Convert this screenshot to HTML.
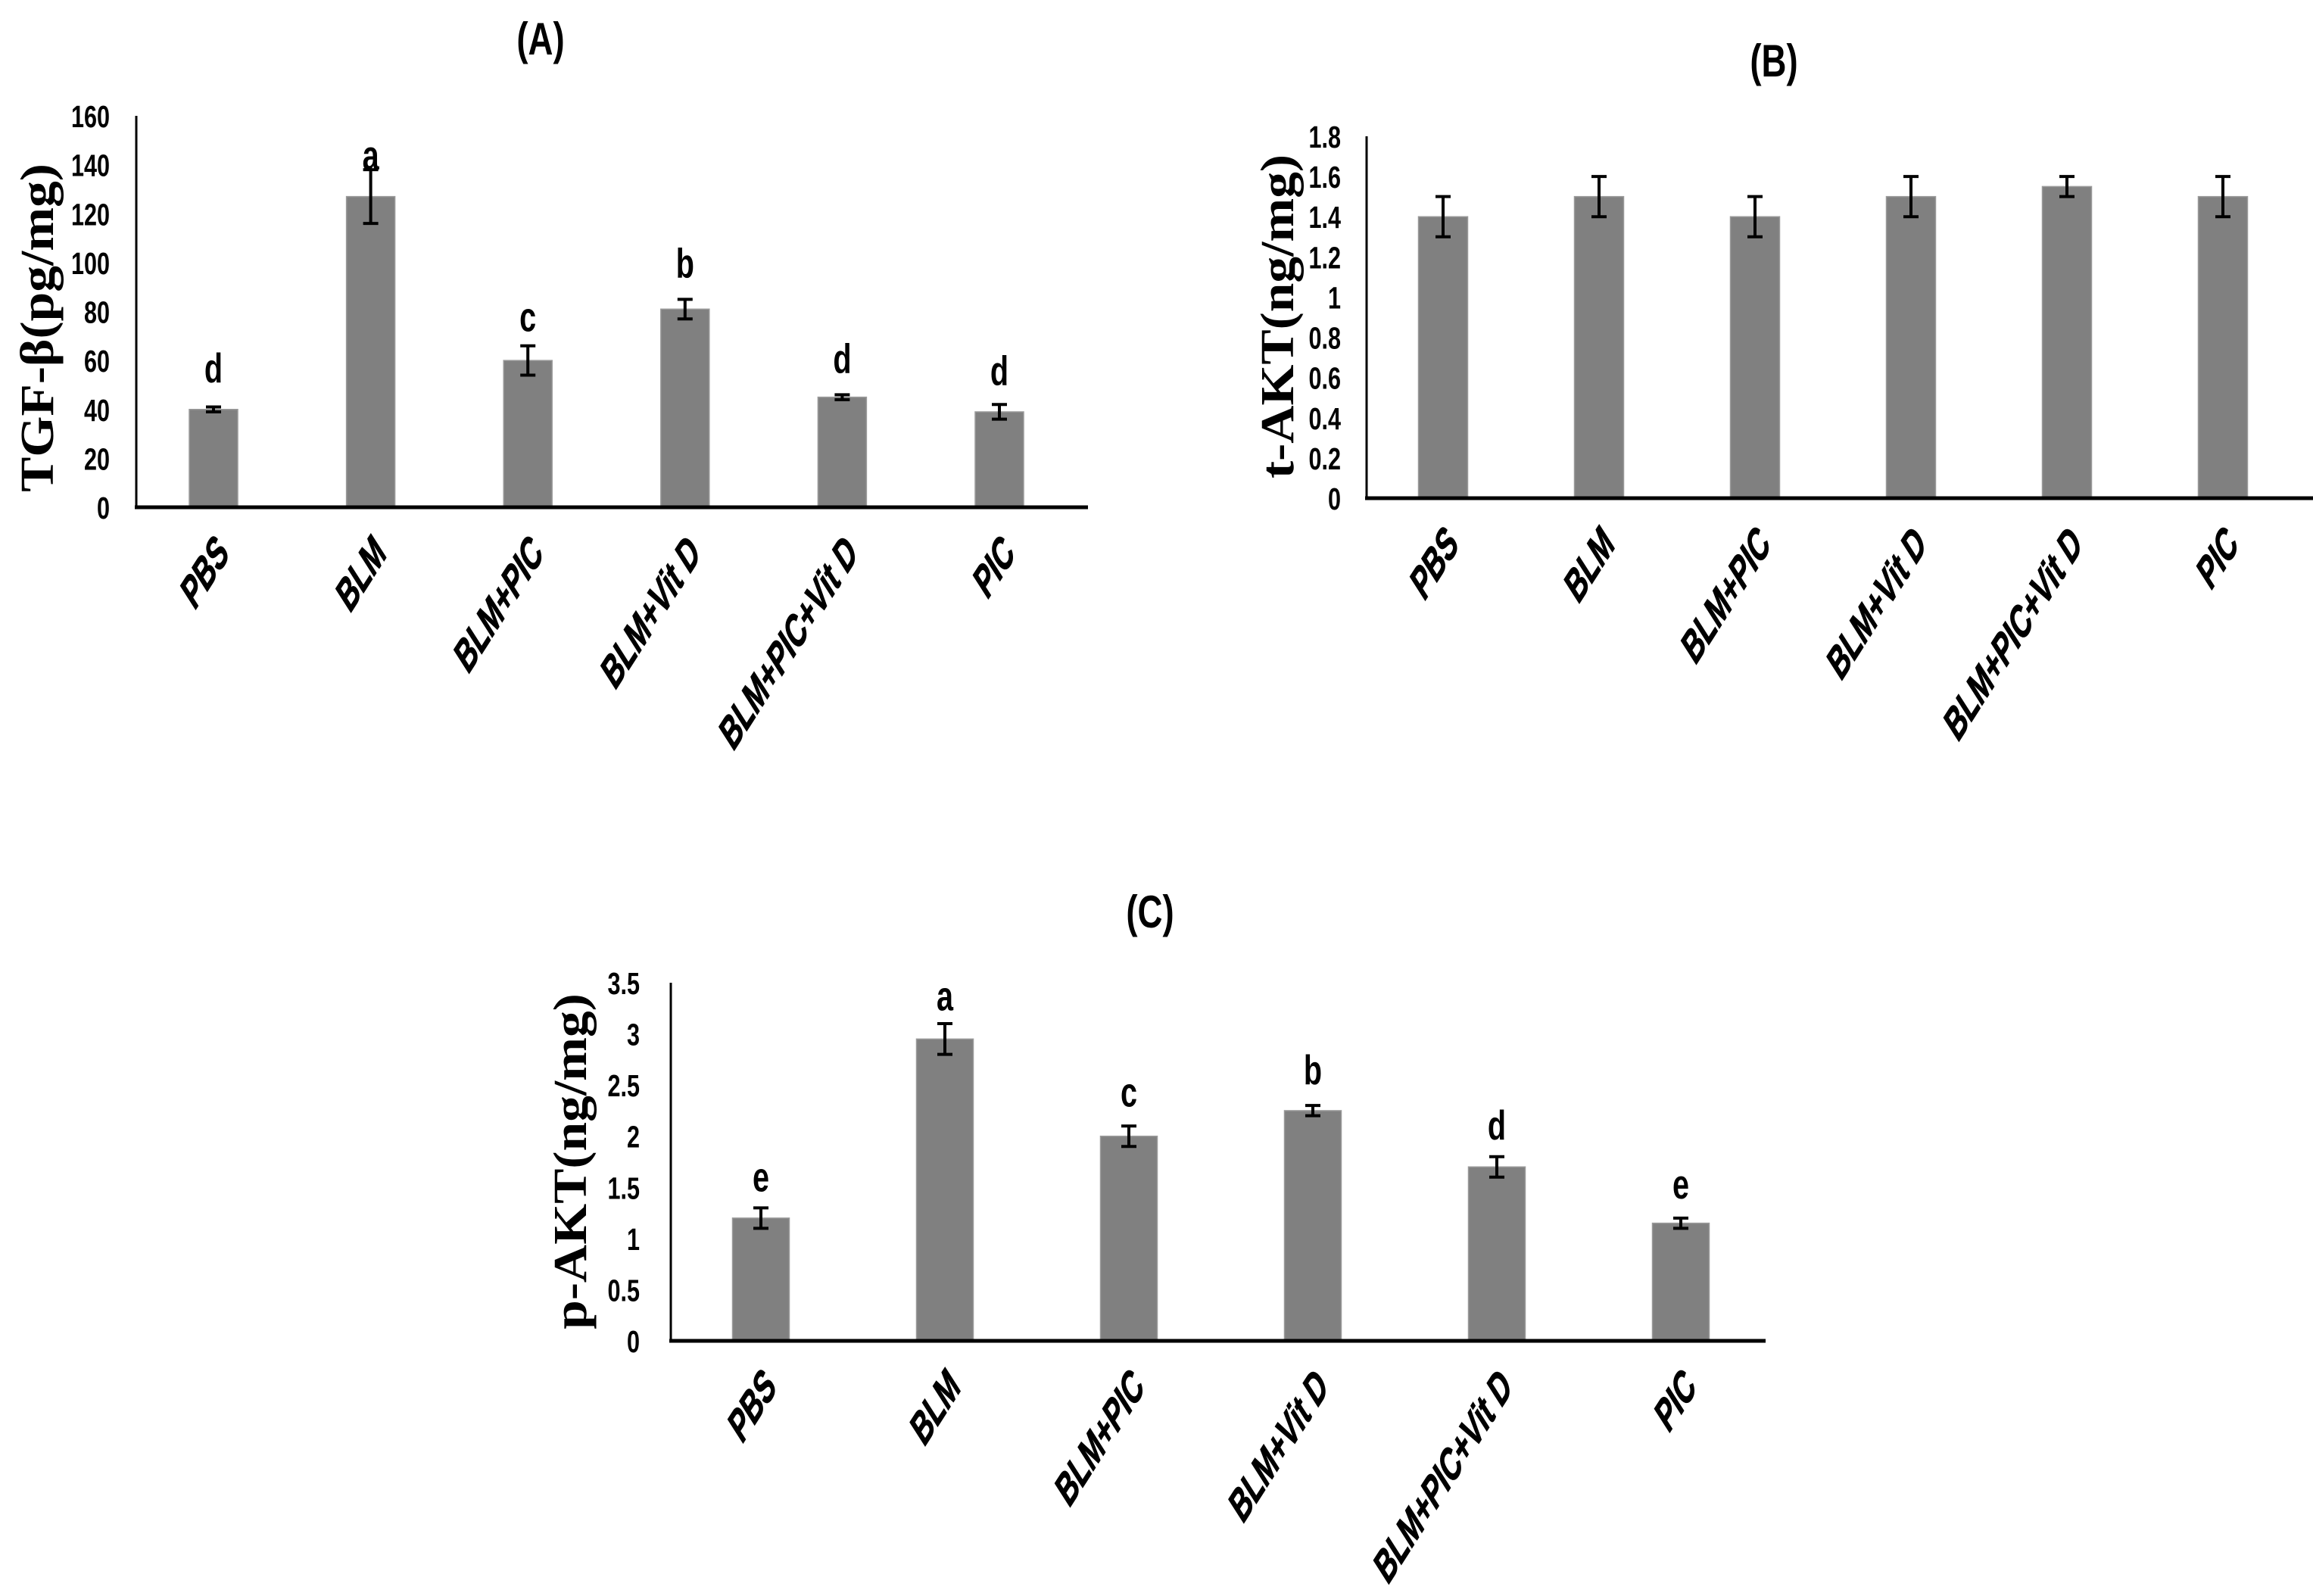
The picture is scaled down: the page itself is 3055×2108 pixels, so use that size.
<!DOCTYPE html>
<html><head><meta charset="utf-8">
<style>
html,body{margin:0;padding:0;background:#fff;}
svg{display:block;}
text{font-family:"Liberation Sans",sans-serif;}
.tick{font-weight:bold;font-size:34px;fill:#000;}
.cat{font-weight:bold;font-size:45px;fill:#000;stroke:#000;stroke-width:1;}
.ytitle{font-family:"Liberation Serif",serif;font-weight:bold;font-size:62px;fill:#000;}
.ptitle{font-weight:bold;font-size:48px;fill:#000;}
.sig{font-weight:bold;font-size:44px;fill:#000;}
</style></head>
<body>
<svg id="fig" width="3055" height="2108" viewBox="0 0 3055 2108" xmlns="http://www.w3.org/2000/svg"></svg>
<script>
const categories = ["PBS","BLM","BLM+PIC","BLM+Vit D","BLM+PIC+Vit D","PIC"];
// Panel A: TGF-beta
const valuesA = [40,127,60,81,45,39];
const errorsA = [1,11,6,4,1,3];
const sigA = ["d","a","c","b","d","d"];
const sigPosA = [51,138,72,94,55,50];
const ticksA = [0,20,40,60,80,100,120,140,160];
// Panel B: t-AKT
const valuesB = [1.4,1.5,1.4,1.5,1.55,1.5];
const errorsB = [0.1,0.1,0.1,0.1,0.05,0.1];
const ticksB = [0,0.2,0.4,0.6,0.8,1,1.2,1.4,1.6,1.8];
// Panel C: p-AKT
const valuesC = [1.2,2.95,2.0,2.25,1.7,1.15];
const errorsC = [0.1,0.15,0.1,0.05,0.1,0.05];
const sigC = ["e","a","c","b","d","e"];
const sigPosC = [1.46,3.23,2.29,2.51,1.97,1.39];
const ticksC = [0,0.5,1,1.5,2,2.5,3,3.5];

const NS="http://www.w3.org/2000/svg";
const svg=document.getElementById('fig');
function mk(tag,attrs,parent){const e=document.createElementNS(NS,tag);for(const k in attrs)e.setAttribute(k,attrs[k]);(parent||svg).appendChild(e);return e;}

function panel(p){
  const g=mk('g',{});
  
  
  const ymax=p.ticks[p.ticks.length-1];
  const y=v=>p.y0-(v/ymax)*(p.y0-p.yTop);
  const xc=i=>p.firstC+i*p.spacing;
  const t=mk('text',{x:0,y:0,'text-anchor':'middle',class:'ptitle',transform:`translate(${p.titleX},${p.titleY}) scale(0.95,1.25)`},g);
  t.textContent=p.title;
  
  
  const yt=mk('text',{x:0,y:0,'text-anchor':'middle',class:'ytitle',transform:`translate(${p.ytX},${p.ytY}) rotate(-90) scale(1.12,1)`},g);
  yt.textContent=p.ytitle;
  
  
  p.ticks.forEach(v=>{
    const tl=mk('text',{x:0,y:0,'text-anchor':'end',class:'tick',transform:`translate(${p.tickR},${y(v)+15}) scale(0.9,1.2)`},g);
    tl.textContent=String(v);
    
    
  });
  p.values.forEach((v,i)=>{
    const b=mk('rect',{x:xc(i)-p.bw/2,y:y(v),width:p.bw,height:p.y0-y(v),fill:'#808080',stroke:'#9a9a9a','stroke-width':1.5},g);
    
    
    const e=p.errors[i];
    const eg=mk('g',{stroke:'#000','stroke-width':4},g);
    
    
    mk('line',{x1:xc(i),x2:xc(i),y1:y(v+e),y2:y(v-e)},eg);
    mk('line',{x1:xc(i)-10,x2:xc(i)+10,y1:y(v+e),y2:y(v+e)},eg);
    mk('line',{x1:xc(i)-10,x2:xc(i)+10,y1:y(v-e),y2:y(v-e)},eg);
    if(p.sig){
      const s=mk('text',{x:0,y:0,'text-anchor':'middle',class:'sig',transform:`translate(${xc(i)},${y(p.sigPos[i])}) scale(0.9,1.25)`},g);
      s.textContent=p.sig[i];
      
      
    }
    const ax=xc(i)+22, ay=p.y0+64;
    const c=mk('text',{x:0,y:0,'text-anchor':'end',class:'cat',transform:`translate(${ax},${ay}) scale(0.8,1.25) rotate(-45) scale(0.9,1.15)`},g);
    c.textContent=categories[i];
    
    
  });
  const ya=mk('line',{x1:p.x0,x2:p.x0,y1:p.yTop,y2:p.y0+2,stroke:'#000','stroke-width':3},g);
  
  
  const xa=mk('line',{x1:p.x0-2,x2:p.xEnd,y1:p.y0,y2:p.y0,stroke:'#000','stroke-width':5},g);
  
  
}

panel({name:'panel-a-tgf-beta',title:'(A)',titleX:714,titleY:72,ytitle:'TGF-β(pg/mg)',ytX:70,ytY:433,
  ticks:ticksA,values:valuesA,errors:errorsA,sig:sigA,sigPos:sigPosA,
  x0:180,xEnd:1437,yTop:153,y0:670,firstC:282,spacing:207.6,bw:64,tickR:145});
panel({name:'panel-b-t-akt',title:'(B)',titleX:2343,titleY:101,ytitle:'t-AKT(ng/mg)',ytX:1708,ytY:418,
  ticks:ticksB,values:valuesB,errors:errorsB,sig:null,sigPos:null,
  x0:1805,xEnd:3055,yTop:180,y0:658,firstC:1906,spacing:206,bw:65,tickR:1771});
panel({name:'panel-c-p-akt',title:'(C)',titleX:1519,titleY:1225,ytitle:'p-AKT(ng/mg)',ytX:774,ytY:1534,
  ticks:ticksC,values:valuesC,errors:errorsC,sig:sigC,sigPos:sigPosC,
  x0:886,xEnd:2332,yTop:1298,y0:1771,firstC:1005,spacing:243,bw:75,tickR:845});
</script>
</body></html>
